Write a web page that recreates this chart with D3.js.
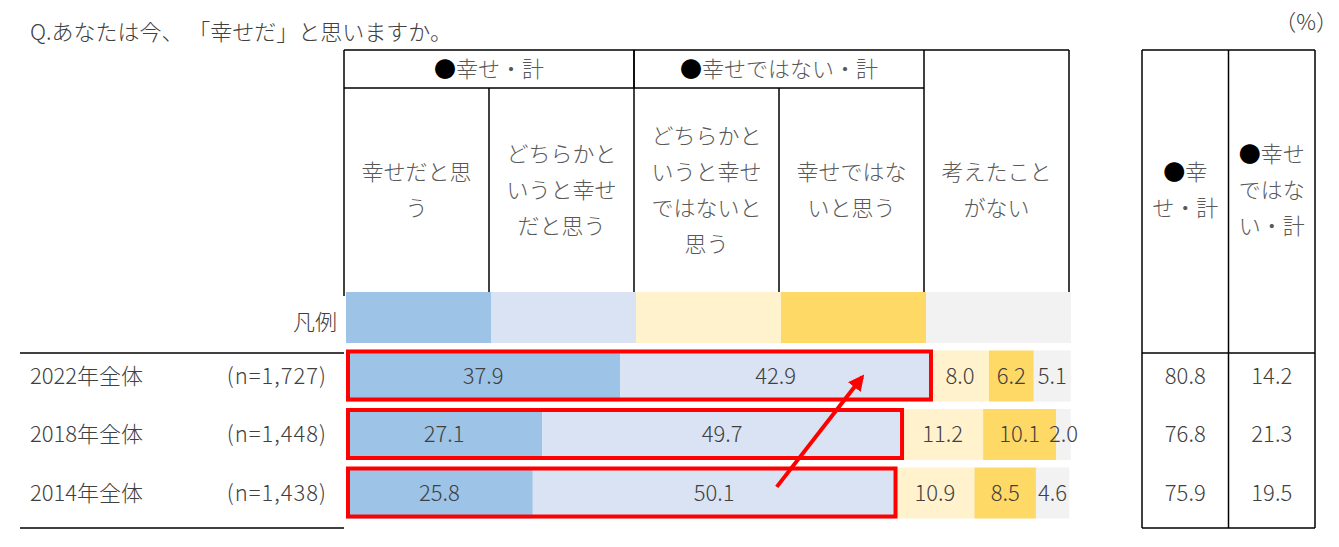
<!DOCTYPE html>
<html>
<head>
<meta charset="utf-8">
<script src="https://cdn.jsdelivr.net/npm/d3@7"></script>
<style>
  body { margin: 0; background: #fff; }
  svg text { font-family: "Noto Sans CJK JP", "Noto Sans", sans-serif; font-weight: 300; }
</style>
</head>
<body>
<div id="chart"></div>
<script>
// rows
var years = ["2022年全体", "2018年全体", "2014年全体"];
var ns = ["(n=1,727)", "(n=1,448)", "(n=1,438)"];

// answer categories (header lines)
var catKeys = ["happy", "ratherHappy", "ratherNot", "notHappy", "never"];
var catLabels = [
  ["幸せだと思", "う"],
  ["どちらかと", "いうと幸せ", "だと思う"],
  ["どちらかと", "いうと幸せ", "ではないと", "思う"],
  ["幸せではな", "いと思う"],
  ["考えたこと", "がない"]
];
var groupLabels = ["●幸せ・計", "●幸せではない・計"];
var catColors = ["#9dc3e6", "#dae3f3", "#fff2cc", "#ffd966", "#f2f2f2"];

// values (%)
var happy = [37.9, 27.1, 25.8];
var ratherHappy = [42.9, 49.7, 50.1];
var ratherNot = [8.0, 11.2, 10.9];
var notHappy = [6.2, 10.1, 8.5];
var never = [5.1, 2.0, 4.6];

// totals table
var totalLabels = [["●幸", "せ・計"], ["●幸せ", "ではな", "い・計"]];
var happyTotal = [80.8, 76.8, 75.9];
var notTotal = [14.2, 21.3, 19.5];

// arrow annotation (% position on bar, row)
var arrowFrom = [59.5, "2014年全体"];
var arrowTo = [71.3, "2022年全体"];

var W = 1339, H = 547;
var svg = d3.select("#chart").append("svg")
    .attr("width", W).attr("height", H);

var series = [happy, ratherHappy, ratherNot, notHappy, never];
var table = years.map(function(y, i) {
  var o = { year: y };
  catKeys.forEach(function(k, j) { o[k] = series[j][i]; });
  return o;
});

var x = d3.scaleLinear().domain([0, 100]).range([346, 1070]);
var y = d3.scaleBand().domain(years).range([342, 527]).paddingInner(0.128).paddingOuter(0.145);
var col = d3.scaleBand().domain(catKeys).range([344, 1069]);

var ink = "#404040", head = "#595959";
var fs = 22;

// writes a label, drawing a leading ● in black
function fillText(t, s) {
  if (s.charAt(0) === "●") {
    t.append("tspan").attr("fill", "#000").text("●");
    t.append("tspan").text(s.slice(1));
  } else {
    t.text(s);
  }
}

// title and unit
svg.append("text").attr("x", 30).attr("y", 40)
    .attr("font-size", fs).attr("fill", ink)
    .text("Q.あなたは今、 「幸せだ」と思いますか。");
svg.append("text").attr("x", 1338).attr("y", 30).attr("text-anchor", "end")
    .attr("font-size", fs).attr("fill", ink).text("（%）");

// header grid
var grid = svg.append("g").attr("stroke", "#000").attr("stroke-width", 1.5);
var tTop = 50, gLine = 88, hBottom = 292;
grid.append("line").attr("x1", col.range()[0]).attr("x2", col.range()[1]).attr("y1", tTop).attr("y2", tTop);
grid.append("line").attr("x1", col.range()[0]).attr("x2", col("never")).attr("y1", gLine).attr("y2", gLine);
grid.append("line").attr("x1", col.range()[0]).attr("x2", col.range()[0]).attr("y1", tTop).attr("y2", hBottom + 4);
catKeys.forEach(function(k, j) {
  var xx = col(k) + col.bandwidth();
  var top = (k === "happy" || k === "ratherNot") ? gLine : tTop;
  grid.append("line").attr("x1", xx).attr("x2", xx).attr("y1", top).attr("y2", hBottom);
});
grid.append("line").attr("x1", col("ratherNot")).attr("x2", col("ratherNot")).attr("y1", tTop).attr("y2", gLine);

// group headers
[["happy", "ratherHappy"], ["ratherNot", "notHappy"]].forEach(function(pair, i) {
  var cx = (col(pair[0]) + col(pair[1]) + col.bandwidth()) / 2;
  var t = svg.append("text").attr("x", cx).attr("y", 69).attr("dy", "0.35em")
      .attr("text-anchor", "middle").attr("font-size", fs).attr("fill", head);
  fillText(t, groupLabels[i]);
});

function multiline(cx, lines) {
  var lh = 36, cy = 190;
  var t = svg.append("text").attr("text-anchor", "middle")
      .attr("font-size", fs).attr("fill", head);
  lines.forEach(function(s, i) {
    var ts = t.append("tspan").attr("x", cx)
        .attr("y", cy + (i - (lines.length - 1) / 2) * lh)
        .attr("dy", "0.35em");
    fillText(ts, s);
  });
}
catKeys.forEach(function(k, j) { multiline(col(k) + col.bandwidth() / 2, catLabels[j]); });

// legend swatches
svg.append("text").attr("x", 337).attr("y", 322).attr("dy", "0.35em")
    .attr("text-anchor", "end").attr("font-size", fs).attr("fill", ink).text("凡例");
svg.selectAll("rect.swatch").data(catKeys).join("rect")
    .attr("class", "swatch")
    .attr("x", function(k) { return col(k) + 2; })
    .attr("width", col.bandwidth())
    .attr("y", 292).attr("height", 51)
    .attr("fill", function(k, j) { return catColors[j]; });

// row rules
grid.append("line").attr("x1", 20).attr("x2", 344).attr("y1", 353).attr("y2", 353);
grid.append("line").attr("x1", 20).attr("x2", 344).attr("y1", 528).attr("y2", 528);

// row labels
years.forEach(function(yr, i) {
  var cy = y(yr) + y.bandwidth() / 2;
  svg.append("text").attr("x", 30).attr("y", cy).attr("dy", "0.35em")
      .attr("font-size", fs).attr("fill", ink).text(yr);
  svg.append("text").attr("x", 327).attr("y", cy).attr("dy", "0.35em")
      .attr("text-anchor", "end").attr("font-size", fs).attr("fill", ink)
      .attr("letter-spacing", 1).text(ns[i]);
});

// stacked bars
var stack = d3.stack().keys(catKeys)(table);
var layers = svg.selectAll("g.layer").data(stack).join("g")
    .attr("class", "layer")
    .attr("fill", function(d, j) { return catColors[j]; });
layers.selectAll("rect").data(function(d) { return d; }).join("rect")
    .attr("x", function(d) { return x(d[0]); })
    .attr("width", function(d) { return x(d[1]) - x(d[0]); })
    .attr("y", function(d) { return y(d.data.year); })
    .attr("height", y.bandwidth());
layers.selectAll("text").data(function(d) { return d; }).join("text")
    .attr("x", function(d) { return x((d[0] + d[1]) / 2); })
    .attr("y", function(d) { return y(d.data.year) + y.bandwidth() / 2; })
    .attr("dy", "0.35em").attr("text-anchor", "middle")
    .attr("font-size", fs).attr("fill", ink)
    .text(function(d) { return (d[1] - d[0]).toFixed(1); });

// red highlight boxes around 幸せ・計
svg.selectAll("rect.hl").data(years).join("rect")
    .attr("class", "hl")
    .attr("x", x(0) + 2)
    .attr("width", function(yr, i) { return x(happyTotal[i]) - x(0) - 2; })
    .attr("y", function(yr) { return y(yr) + 1; })
    .attr("height", y.bandwidth() - 3)
    .attr("fill", "none").attr("stroke", "#ff0000").attr("stroke-width", 4);

// arrow
var defs = svg.append("defs");
defs.append("marker").attr("id", "ah")
    .attr("viewBox", "0 0 10 10").attr("refX", 8).attr("refY", 5)
    .attr("markerWidth", 4).attr("markerHeight", 4).attr("orient", "auto")
  .append("path").attr("d", "M0,0 L10,5 L0,10 Z").attr("fill", "#ff0000");
svg.append("line")
    .attr("x1", x(arrowFrom[0])).attr("y1", y(arrowFrom[1]) + y.bandwidth() * 0.38)
    .attr("x2", x(arrowTo[0])).attr("y2", y(arrowTo[1]) + y.bandwidth() * 0.52)
    .attr("stroke", "#ff0000").attr("stroke-width", 4)
    .attr("marker-end", "url(#ah)");

// totals table
var tx = d3.scaleBand().domain(["happyTotal", "notTotal"]).range([1142, 1315]);
var tg = svg.append("g").attr("stroke", "#000").attr("stroke-width", 1.5);
tg.append("line").attr("x1", 1142).attr("x2", 1315).attr("y1", tTop).attr("y2", tTop);
tg.append("line").attr("x1", 1142).attr("x2", 1315).attr("y1", 353).attr("y2", 353);
tg.append("line").attr("x1", 1142).attr("x2", 1315).attr("y1", 528).attr("y2", 528);
[1142, tx("notTotal"), 1315].forEach(function(xx) {
  tg.append("line").attr("x1", xx).attr("x2", xx).attr("y1", tTop).attr("y2", 528);
});
multiline(tx("happyTotal") + tx.bandwidth() / 2, totalLabels[0]);
multiline(tx("notTotal") + tx.bandwidth() / 2, totalLabels[1]);
[happyTotal, notTotal].forEach(function(arr, j) {
  var key = j === 0 ? "happyTotal" : "notTotal";
  years.forEach(function(yr, i) {
    svg.append("text")
        .attr("x", tx(key) + tx.bandwidth() / 2)
        .attr("y", y(yr) + y.bandwidth() / 2).attr("dy", "0.35em")
        .attr("text-anchor", "middle").attr("font-size", fs).attr("fill", ink)
        .text(arr[i].toFixed(1));
  });
});
</script>
</body>
</html>
